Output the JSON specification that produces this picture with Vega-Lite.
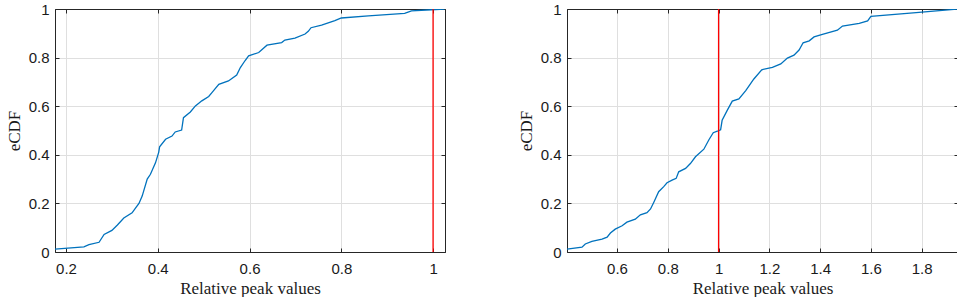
{
  "$schema": "https://vega.github.io/schema/vega-lite/v6.json",
  "padding": {"left": 4, "top": 1, "right": 0, "bottom": 0},
  "spacing": 70,
  "config": {
    "view": {"stroke": "#262626", "strokeWidth": 1},
    "axis": {
      "labelFont": "Liberation Sans", "labelFontSize": 15, "labelColor": "#1a1a1a",
      "titleFont": "Liberation Serif", "titleFontSize": 17, "titleFontWeight": "normal", "titleColor": "#1a1a1a",
      "domainColor": "#262626", "tickColor": "#262626", "tickSize": -4,
      "gridColor": "#dfdfdf", "gridOpacity": 1, "gridWidth": 1
    }
  },
  "datasets": {
    "left": [
      {"x": 0.176, "y": 0.012}, {"x": 0.239, "y": 0.021}, {"x": 0.25, "y": 0.03}, {"x": 0.272, "y": 0.04},
      {"x": 0.283, "y": 0.072}, {"x": 0.3, "y": 0.089}, {"x": 0.312, "y": 0.111}, {"x": 0.326, "y": 0.14},
      {"x": 0.344, "y": 0.161}, {"x": 0.351, "y": 0.18}, {"x": 0.359, "y": 0.2}, {"x": 0.366, "y": 0.23},
      {"x": 0.377, "y": 0.3}, {"x": 0.384, "y": 0.32}, {"x": 0.395, "y": 0.367}, {"x": 0.402, "y": 0.41},
      {"x": 0.404, "y": 0.433}, {"x": 0.417, "y": 0.464}, {"x": 0.431, "y": 0.477}, {"x": 0.438, "y": 0.494},
      {"x": 0.452, "y": 0.502}, {"x": 0.456, "y": 0.553}, {"x": 0.471, "y": 0.576}, {"x": 0.482, "y": 0.601},
      {"x": 0.496, "y": 0.622}, {"x": 0.511, "y": 0.64}, {"x": 0.518, "y": 0.656}, {"x": 0.533, "y": 0.69},
      {"x": 0.554, "y": 0.704}, {"x": 0.572, "y": 0.728}, {"x": 0.58, "y": 0.759}, {"x": 0.59, "y": 0.787},
      {"x": 0.598, "y": 0.807}, {"x": 0.62, "y": 0.821}, {"x": 0.638, "y": 0.851}, {"x": 0.67, "y": 0.862},
      {"x": 0.677, "y": 0.872}, {"x": 0.699, "y": 0.88}, {"x": 0.721, "y": 0.897}, {"x": 0.728, "y": 0.908},
      {"x": 0.734, "y": 0.923}, {"x": 0.757, "y": 0.934}, {"x": 0.786, "y": 0.952}, {"x": 0.8, "y": 0.963},
      {"x": 0.859, "y": 0.972}, {"x": 0.938, "y": 0.982}, {"x": 0.953, "y": 0.992}, {"x": 0.996, "y": 0.997},
      {"x": 1.025, "y": 1.0}
    ],
    "right": [
      {"x": 0.403, "y": 0.012}, {"x": 0.462, "y": 0.02}, {"x": 0.475, "y": 0.033}, {"x": 0.501, "y": 0.044},
      {"x": 0.541, "y": 0.053}, {"x": 0.561, "y": 0.061}, {"x": 0.574, "y": 0.078}, {"x": 0.593, "y": 0.094},
      {"x": 0.62, "y": 0.108}, {"x": 0.639, "y": 0.123}, {"x": 0.672, "y": 0.135}, {"x": 0.692, "y": 0.153},
      {"x": 0.718, "y": 0.162}, {"x": 0.732, "y": 0.177}, {"x": 0.745, "y": 0.205}, {"x": 0.764, "y": 0.248},
      {"x": 0.784, "y": 0.269}, {"x": 0.797, "y": 0.285}, {"x": 0.817, "y": 0.296}, {"x": 0.833, "y": 0.303},
      {"x": 0.843, "y": 0.33}, {"x": 0.87, "y": 0.344}, {"x": 0.889, "y": 0.364}, {"x": 0.909, "y": 0.392},
      {"x": 0.942, "y": 0.423}, {"x": 0.962, "y": 0.462}, {"x": 0.979, "y": 0.491}, {"x": 0.995, "y": 0.497},
      {"x": 1.008, "y": 0.503}, {"x": 1.014, "y": 0.542}, {"x": 1.034, "y": 0.583}, {"x": 1.054, "y": 0.621},
      {"x": 1.08, "y": 0.63}, {"x": 1.107, "y": 0.664}, {"x": 1.139, "y": 0.712}, {"x": 1.17, "y": 0.75},
      {"x": 1.212, "y": 0.76}, {"x": 1.245, "y": 0.774}, {"x": 1.271, "y": 0.798}, {"x": 1.297, "y": 0.81},
      {"x": 1.317, "y": 0.831}, {"x": 1.333, "y": 0.861}, {"x": 1.357, "y": 0.869}, {"x": 1.376, "y": 0.885},
      {"x": 1.409, "y": 0.896}, {"x": 1.468, "y": 0.913}, {"x": 1.488, "y": 0.93}, {"x": 1.554, "y": 0.941},
      {"x": 1.587, "y": 0.951}, {"x": 1.6, "y": 0.97}, {"x": 1.778, "y": 0.985}, {"x": 1.943, "y": 1.0}
    ],
    "ref": [{"x": 1}]
  },
  "hconcat": [
    {
      "width": 390, "height": 243,
      "resolve": {"axis": {"x": "independent", "y": "independent"}},
      "layer": [
        {
          "data": {"name": "left"},
          "mark": {"type": "line", "color": "#0072BD", "strokeWidth": 1.3, "clip": true},
          "encoding": {
            "x": {"field": "x", "type": "quantitative", "scale": {"domain": [0.176, 1.026], "nice": false, "zero": false},
                  "axis": {"orient": "bottom", "values": [0.2, 0.4, 0.6, 0.8, 1], "format": "~g", "title": "Relative peak values", "labelPadding": 13, "titlePadding": 4}},
            "y": {"field": "y", "type": "quantitative", "scale": {"domain": [0, 1], "nice": false},
                  "axis": {"orient": "left", "values": [0, 0.2, 0.4, 0.6, 0.8, 1], "format": "~g", "title": "eCDF", "labelPadding": 10, "titlePadding": 5}}
          }
        },
        {
          "data": {"name": "left"},
          "mark": {"type": "line", "opacity": 0, "clip": true},
          "encoding": {
            "x": {"field": "x", "type": "quantitative",
                  "axis": {"orient": "top", "values": [0.2, 0.4, 0.6, 0.8, 1], "labels": false, "title": null, "grid": false}},
            "y": {"field": "y", "type": "quantitative",
                  "axis": {"orient": "right", "values": [0, 0.2, 0.4, 0.6, 0.8, 1], "labels": false, "title": null, "grid": false}}
          }
        },
        {
          "data": {"name": "ref"},
          "mark": {"type": "rule", "color": "#ff0000", "strokeWidth": 1.3},
          "encoding": {"x": {"field": "x", "type": "quantitative", "axis": null}}
        }
      ]
    },
    {
      "width": 391, "height": 243,
      "resolve": {"axis": {"x": "independent", "y": "independent"}},
      "layer": [
        {
          "data": {"name": "right"},
          "mark": {"type": "line", "color": "#0072BD", "strokeWidth": 1.3, "clip": true},
          "encoding": {
            "x": {"field": "x", "type": "quantitative", "scale": {"domain": [0.403, 1.943], "nice": false, "zero": false},
                  "axis": {"orient": "bottom", "values": [0.6, 0.8, 1, 1.2, 1.4, 1.6, 1.8], "format": "~g", "title": "Relative peak values", "labelPadding": 13, "titlePadding": 4}},
            "y": {"field": "y", "type": "quantitative", "scale": {"domain": [0, 1], "nice": false},
                  "axis": {"orient": "left", "values": [0, 0.2, 0.4, 0.6, 0.8, 1], "format": "~g", "title": "eCDF", "labelPadding": 10, "titlePadding": 5}}
          }
        },
        {
          "data": {"name": "right"},
          "mark": {"type": "line", "opacity": 0, "clip": true},
          "encoding": {
            "x": {"field": "x", "type": "quantitative",
                  "axis": {"orient": "top", "values": [0.6, 0.8, 1, 1.2, 1.4, 1.6, 1.8], "labels": false, "title": null, "grid": false}},
            "y": {"field": "y", "type": "quantitative",
                  "axis": {"orient": "right", "values": [0, 0.2, 0.4, 0.6, 0.8, 1], "labels": false, "title": null, "grid": false}}
          }
        },
        {
          "data": {"name": "ref"},
          "mark": {"type": "rule", "color": "#ff0000", "strokeWidth": 1.3},
          "encoding": {"x": {"field": "x", "type": "quantitative", "axis": null}}
        }
      ]
    }
  ]
}
